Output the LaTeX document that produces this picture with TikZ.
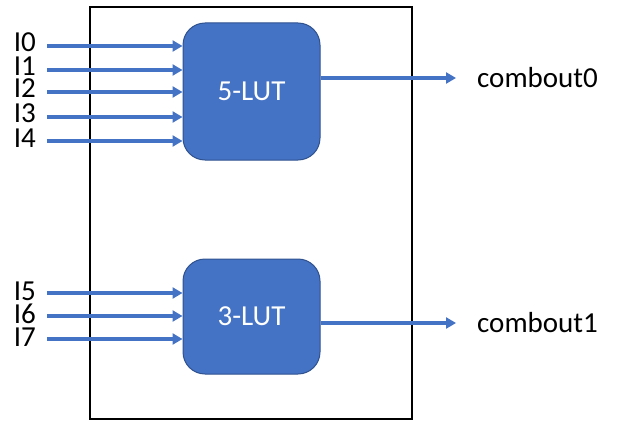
\documentclass[tikz,border=0pt]{standalone}
\usepackage{fontspec}
\setmainfont{Carlito}
\usetikzlibrary{arrows.meta}
\definecolor{lutblue}{HTML}{4472C4}
\definecolor{lutedge}{HTML}{2F528F}
\tikzset{
  lutbox/.style={draw=lutedge, line width=1pt, fill=lutblue, rounded corners=22pt,
    text=white, font=\fontsize{29}{32}\selectfont, inner sep=0pt},
  sig/.style={draw=lutblue, line width=3.2pt, -{Triangle[length=10pt,width=11pt]}},
  pinlabel/.style={font=\fontsize{29}{32}\selectfont, inner sep=0pt, anchor=east,
    text height=18pt, text depth=0pt},
  outlabel/.style={font=\fontsize{29}{32}\selectfont, inner sep=0pt, anchor=west},
  frame/.style={draw=black, line width=1.3pt}
}
\begin{document}
\begin{tikzpicture}[x=1pt, y=-1pt]
  \useasboundingbox (0,0) rectangle (617,422);

  % enclosing cell
  \node[frame, minimum width=322pt, minimum height=412pt, inner sep=0pt] (cell) at (251,213) {};

  % lookup tables
  \node[lutbox, minimum width=137pt, minimum height=137pt] (lut5) at (251.5,91.5) {5-LUT};
  \node[lutbox, minimum width=137pt, minimum height=115pt] (lut3) at (251.5,316.5) {3-LUT};

  % inputs of the 5-LUT
  \foreach \n/\y in {0/46, 1/70, 2/92, 3/117, 4/141} {
    \node[pinlabel] (l\n) at (36,\y-3) {I\n};
    \coordinate (s\n) at (47,\y);
    \draw[sig] (s\n) -- (s\n -| lut5.west);
  }

  % inputs of the 3-LUT
  \foreach \n/\y in {5/293, 6/316, 7/339} {
    \node[pinlabel] (l\n) at (36,\y-2) {I\n};
    \coordinate (s\n) at (47,\y);
    \draw[sig] (s\n) -- (s\n -| lut3.west);
  }

  % outputs
  \coordinate (o0) at (320,78);
  \coordinate (e0) at (456,78);
  \node[outlabel] (c0) at (477,78) {combout0};
  \draw[sig] (o0 -| lut5.east) -- (e0);

  \coordinate (o1) at (320,323);
  \coordinate (e1) at (456,323);
  \node[outlabel] (c1) at (477,323) {combout1};
  \draw[sig] (o1 -| lut3.east) -- (e1);
\end{tikzpicture}
\end{document}
